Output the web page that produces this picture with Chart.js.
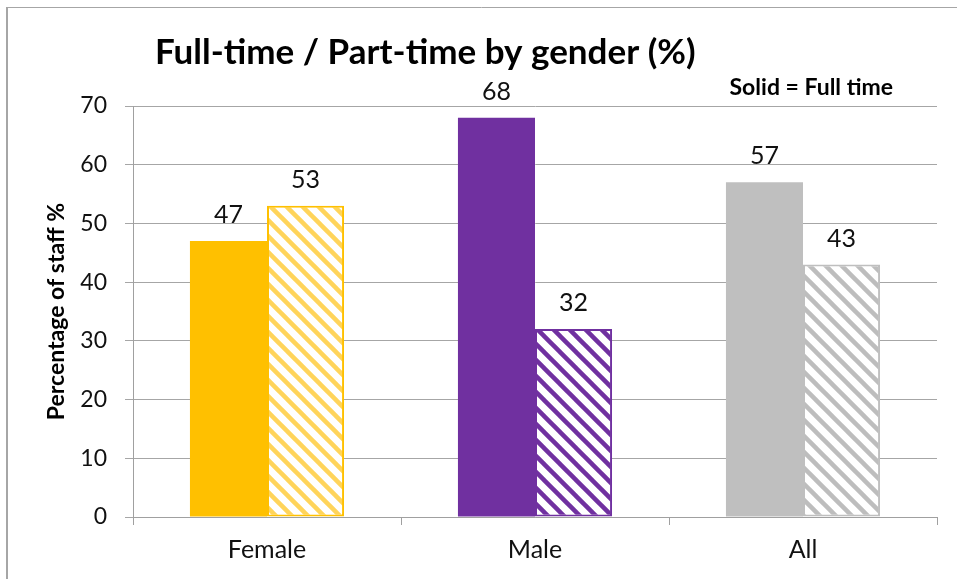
<!DOCTYPE html>
<html>
<head>
<meta charset="utf-8">
<script src="https://cdn.jsdelivr.net/npm/chart.js@4.4.1/dist/chart.umd.min.js"></script>
<style>
  html, body { margin: 0; padding: 0; background: #fff; }
  #wrap { width: 957px; height: 579px; position: relative; }
</style>
</head>
<body>
<div id="wrap"><canvas id="staffChart"></canvas></div>
<script>
  // categories and series (percent of staff)
  const groups = ['Female', 'Male', 'All'];
  const fullTime = [47, 68, 57];
  const partTime = [53, 32, 43];
  const yTicks = [0, 10, 20, 30, 40, 50, 60, 70];

  const solidColors = ['#FFC000', '#7030A0', '#BFBFBF'];
  const stripeColors = ['#FFD45A', '#7030A0', '#BDBDBD'];

  const FONT = 'Lato, "Open Sans", sans-serif';

  // diagonal "\" hatch on white
  function hatch(color){
    const s = 16;
    const c = document.createElement('canvas');
    c.width = s; c.height = s;
    const g = c.getContext('2d');
    g.fillStyle = '#fff';
    g.fillRect(0, 0, s, s);
    g.strokeStyle = color;
    g.lineWidth = 4.5;
    [-s, 0, s].forEach(o => {
      g.beginPath();
      g.moveTo(o - 2, -2);
      g.lineTo(o + s + 2, s + 2);
      g.stroke();
    });
    return g.createPattern(c, 'repeat');
  }

  const frameAndText = {
    id: 'frameAndText',
    beforeDraw(chart){
      const ctx = chart.ctx;
      ctx.save();
      ctx.fillStyle = '#fff';
      ctx.fillRect(0, 0, chart.width, chart.height);
      ctx.strokeStyle = '#a6a6a6';
      ctx.lineWidth = 1;
      ctx.beginPath();
      ctx.moveTo(6, 7.5);
      ctx.lineTo(chart.width, 7.5);
      ctx.stroke();
      ctx.lineWidth = 2;
      ctx.beginPath();
      ctx.moveTo(7, 7);
      ctx.lineTo(7, chart.height);
      ctx.stroke();
      ctx.restore();
    },
    afterDraw(chart){
      const ctx = chart.ctx;
      ctx.save();
      ctx.fillStyle = '#000';
      ctx.textBaseline = 'alphabetic';
      ctx.textAlign = 'left';
      ctx.font = 'bold 35px ' + FONT;
      ctx.fillText('Full-time / Part-time by gender (%)', 155, 64);
      ctx.textAlign = 'right';
      ctx.font = 'bold 23px ' + FONT;
      ctx.fillText('Solid = Full time', 893, 95);
      ctx.restore();
    }
  };

  const valueLabels = {
    id: 'valueLabels',
    afterDatasetsDraw(chart){
      const ctx = chart.ctx;
      ctx.save();
      ctx.fillStyle = '#111';
      ctx.font = '25px ' + FONT;
      ctx.textAlign = 'center';
      ctx.textBaseline = 'alphabetic';
      chart.data.datasets.forEach((ds, i) => {
        chart.getDatasetMeta(i).data.forEach((bar, j) => {
          ctx.fillText(String(ds.data[j]), bar.x, bar.y - 18);
        });
      });
      ctx.restore();
    }
  };

  new Chart(document.getElementById('staffChart'), {
    type: 'bar',
    data: {
      labels: groups,
      datasets: [
        {
          label: 'Full time',
          data: fullTime,
          backgroundColor: solidColors,
          borderWidth: 0
        },
        {
          label: 'Part time',
          data: partTime,
          backgroundColor: stripeColors.map(hatch),
          borderColor: solidColors,
          borderWidth: 2,
          borderSkipped: false
        }
      ]
    },
    options: {
      responsive: true,
      maintainAspectRatio: false,
      animation: false,
      categoryPercentage: 0.575,
      barPercentage: 1,
      layout: { padding: { top: 106, right: 20, left: 0, bottom: 0 } },
      plugins: {
        legend: { display: false },
        tooltip: { enabled: false }
      },
      scales: {
        x: {
          grid: {
            offset: true,
            drawOnChartArea: false,
            drawTicks: true,
            tickLength: 8,
            color: '#a0a0a0'
          },
          border: { display: true, color: '#a0a0a0', width: 1 },
          ticks: {
            color: '#111',
            padding: 10,
            font: { family: FONT, size: 25 }
          },
          afterFit(scale){ scale.height = 62; }
        },
        y: {
          min: 0,
          max: 70,
          afterBuildTicks(scale){ scale.ticks = yTicks.map(v => ({ value: v })); },
          grid: {
            color: '#a6a6a6',
            tickLength: 8
          },
          border: { display: true, color: '#a0a0a0', width: 1 },
          ticks: {
            color: '#111',
            padding: 18,
            font: { family: FONT, size: 23 }
          },
          title: {
            display: true,
            text: 'Percentage of staff %',
            color: '#000',
            font: { family: FONT, size: 23, weight: 'bold' },
            padding: { top: 43, bottom: 0 }
          },
          afterFit(scale){ scale.width = 133; }
        }
      }
    },
    plugins: [frameAndText, valueLabels]
  });
</script>
</body>
</html>
